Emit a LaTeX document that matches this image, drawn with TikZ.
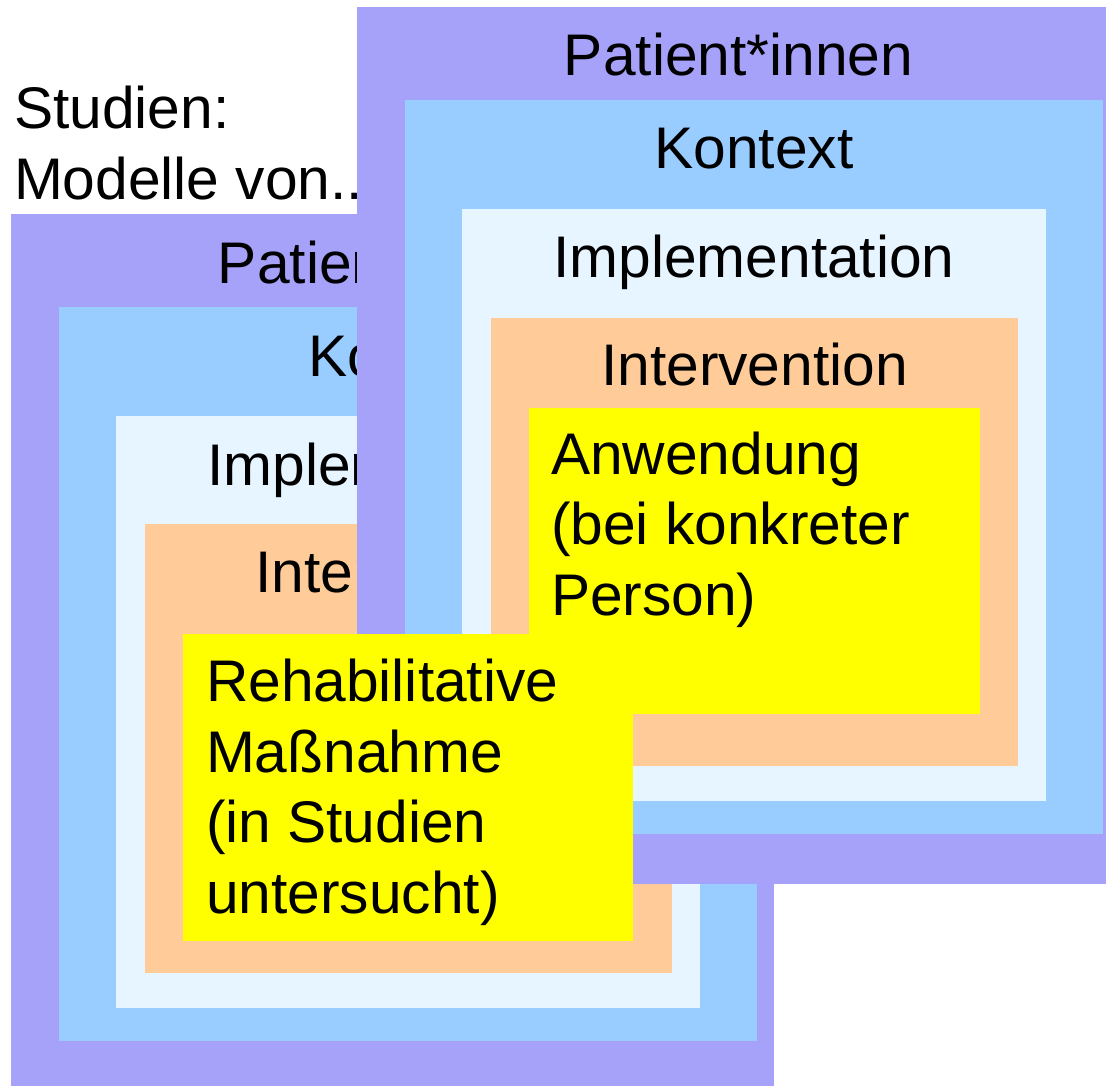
\documentclass[tikz,border=0pt]{standalone}
\usepackage{fontspec}
\setmainfont{Liberation Sans}
\begin{document}
\definecolor{cpurple}{RGB}{166,162,250}
\definecolor{cblue}{RGB}{153,204,255}
\definecolor{clight}{RGB}{230,245,255}
\definecolor{corange}{RGB}{255,204,153}
\definecolor{cyellow}{RGB}{255,255,0}
\begin{tikzpicture}[x=1pt,y=-1pt,
  layer/.style={rectangle,draw=none,inner sep=0pt,outer sep=0pt,anchor=north west},
  lbl/.style={inner sep=0pt,outer sep=0pt,anchor=base,font=\fontsize{58.7}{70.4}\selectfont},
  % multi-line text: base anchor sits on the last line's baseline
  txt/.style={inner sep=0pt,outer sep=0pt,anchor=base west,align=left,font=\fontsize{58.7}{70.4}\selectfont}]
\useasboundingbox (0,0) rectangle (1106,1085);
\clip (0,0) rectangle (1106,1085);

% heading
\node[txt] (head) at (14,199) {Studien:\\Modelle von..};

% left stack: study model
\node[layer,fill=cpurple,minimum width=763pt,minimum height=877pt] (lpat) at (11,214) {};
\node[lbl] (lpatt) at (392.5,283) {Patient*innen};
\node[layer,fill=cblue,minimum width=698pt,minimum height=734pt] (lkon) at (59,307) {};
\node[lbl] (lkont) at (408,376) {Kontext};
\node[layer,fill=clight,minimum width=584pt,minimum height=592pt] (limp) at (116,416) {};
\node[lbl] (limpt) at (408,485) {Implementation};
\node[layer,fill=corange,minimum width=527pt,minimum height=449pt] (lint) at (145,524) {};
\node[lbl] (lintt) at (408.5,592) {Intervention};

% right stack: application model
\node[layer,fill=cpurple,minimum width=763pt,minimum height=877pt] (rpat) at (357,7) {};
\node[lbl] (rpatt) at (738.5,75) {Patient*innen};
\node[layer,fill=cblue,minimum width=698pt,minimum height=734pt] (rkon) at (405,100) {};
\node[lbl] (rkont) at (754,168) {Kontext};
\node[layer,fill=clight,minimum width=584pt,minimum height=592pt] (rimp) at (462,209) {};
\node[lbl] (rimpt) at (754,277) {Implementation};
\node[layer,fill=corange,minimum width=527pt,minimum height=448pt] (rint) at (491,318) {};
\node[lbl] (rintt) at (754.5,385) {Intervention};
\node[layer,fill=cyellow,minimum width=451pt,minimum height=306pt] (rapp) at (529,408) {};
\node[txt] (rappt) at (551,615) {Anwendung\\(bei konkreter\\Person)};

% study measure sits on top of both stacks
\node[layer,fill=cyellow,minimum width=450pt,minimum height=307pt] (lmea) at (183,634) {};
\node[txt] (lmeat) at (206,913) {Rehabilitative\\Maßnahme\\(in Studien\\untersucht)};
\end{tikzpicture}
\end{document}
